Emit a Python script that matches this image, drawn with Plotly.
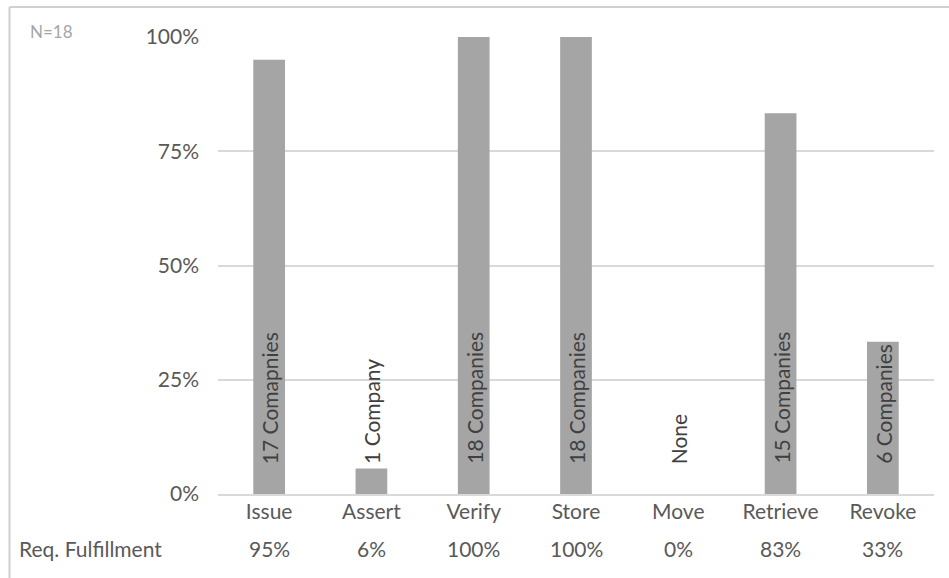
import plotly.graph_objects as go

# Share of the N=18 companies meeting each requirement
categories = ["Issue", "Assert", "Verify", "Store", "Move", "Retrieve", "Revoke"]
fulfillment = [0.95, 0.056, 1.0, 1.0, 0.0, 0.833, 0.333]
company_labels = ["17 Comapnies", "1 Company", "18 Companies", "18 Companies",
                  "None", "15 Companies", "6 Companies"]
y_ticks = [0, 0.25, 0.5, 0.75, 1.0]
sample_note = "N=18"
row_title = "Req. Fulfillment"

FONT = "Lato, Calibri, Carlito, sans-serif"
TXT = "#595959"
FS = 21

W, H = 949, 578
L, R, T, B = 218, 15, 37, 84
pw, ph = W - L - R, H - T - B

def px_x(p):
    return (p - L) / pw

def px_y(p):
    return (H - B - p) / ph

fig = go.Figure(go.Bar(
    x=categories, y=fulfillment,
    marker=dict(color="#a5a5a5", line=dict(width=0)),
    width=0.31, hoverinfo="skip",
))

annotations = []
# company counts, rotated, starting just above the baseline
for cat, lab in zip(categories, company_labels):
    annotations.append(dict(
        x=cat, y=0, xref="x", yref="y", text=lab, textangle=-90,
        showarrow=False, xanchor="center", yanchor="bottom", yshift=28,
        font=dict(family=FONT, size=FS, color="#404040"),
    ))
# fulfillment row under the category labels
for cat, v in zip(categories, fulfillment):
    annotations.append(dict(
        x=cat, y=px_y(548), xref="x", yref="paper", text=f"{round(v * 100)}%",
        showarrow=False, xanchor="center", yanchor="middle",
        font=dict(family=FONT, size=FS, color=TXT),
    ))
annotations.append(dict(
    x=px_x(17), y=px_y(548), xref="paper", yref="paper", text=row_title,
    showarrow=False, xanchor="left", yanchor="middle",
    font=dict(family=FONT, size=FS, color=TXT),
))
annotations.append(dict(
    x=px_x(28), y=px_y(32), xref="paper", yref="paper", text=sample_note,
    showarrow=False, xanchor="left", yanchor="middle",
    font=dict(family=FONT, size=17, color="#a6a6a6"),
))

shapes = [
    dict(type="line", xref="paper", yref="paper", x0=px_x(9.5), x1=px_x(W + 5),
         y0=px_y(7), y1=px_y(7), line=dict(color="#d0d0d0", width=2)),
    dict(type="line", xref="paper", yref="paper", x0=px_x(9.5), x1=px_x(9.5),
         y0=px_y(7), y1=px_y(H + 5), line=dict(color="#d0d0d0", width=2)),
]

fig.update_layout(
    width=W, height=H,
    margin=dict(l=L, r=R, t=T, b=B, pad=0),
    paper_bgcolor="white", plot_bgcolor="white",
    showlegend=False, bargap=0.69,
    annotations=annotations, shapes=shapes,
    font=dict(family=FONT, size=FS, color=TXT),
    xaxis=dict(
        showgrid=False, showline=True, linecolor="#d9d9d9", linewidth=2,
        ticks="", tickfont=dict(family=FONT, size=FS, color=TXT),
        ticklabelstandoff=-2, fixedrange=True,
    ),
    yaxis=dict(
        range=[0, 1], tickvals=y_ticks, tickformat=".0%",
        showgrid=True, gridcolor="#d9d9d9", gridwidth=2,
        zeroline=False, showline=False, ticks="",
        tickfont=dict(family=FONT, size=FS, color=TXT),
        ticklabelstandoff=18, fixedrange=True,
    ),
)

fig.write_html("out.html")
